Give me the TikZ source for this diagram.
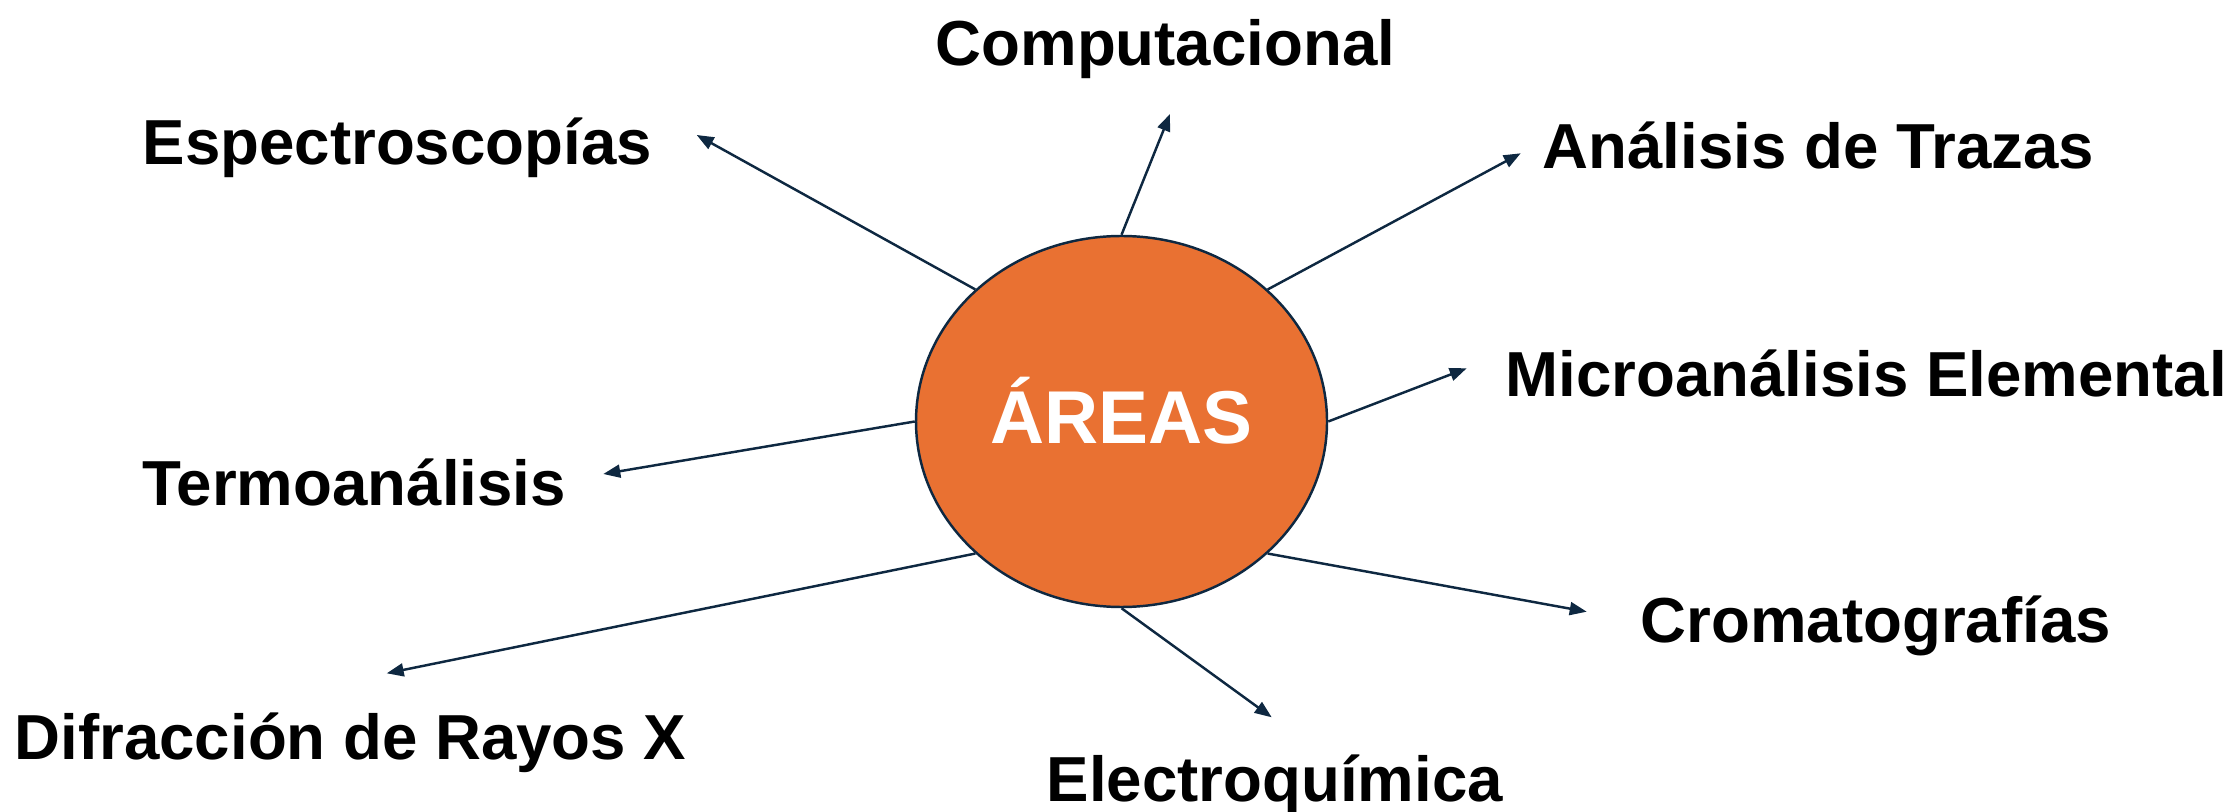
\documentclass[tikz,border=0pt]{standalone}
\usepackage{fontspec}
\setmainfont{Liberation Sans}
\usepackage{xcolor}
\usepackage{tikz}
\usetikzlibrary{shapes.geometric,arrows.meta}

\definecolor{naranja}{HTML}{E97132}
\definecolor{azuloscuro}{HTML}{0E2841}

\begin{document}
\begin{tikzpicture}[
                area/.style={font=\fontsize{18.1}{21}\selectfont\bfseries, inner sep=0pt, anchor=base west},
                flecha/.style={draw=azuloscuro, line width=0.7pt, -{Triangle[length=0.17cm,width=0.13cm]}}]
                \useasboundingbox (0,0) rectangle (22.32,8.11);
                % centro
                \node [ellipse, draw=azuloscuro, line width=0.7pt, fill=naranja, minimum width=4.11cm, minimum height=3.71cm, inner sep=0pt, text=white, font=\fontsize{21.3}{25}\selectfont\bfseries, text height=15pt, text depth=2.2pt] (areas) at (11.215,3.895) {ÁREAS};
                % etiquetas
                \node [area] (comp) at (9.35,7.455) {Computacional};
                \node [area] (espectro) at (1.42,6.46) {Espectroscopías};
                \node [area] (trazas) at (15.42,6.42) {Análisis de Trazas};
                \node [area] (micro) at (15.05,4.14) {Microanálisis Elemental};
                \node [area] (termo) at (1.42,3.06) {Termoanálisis};
                \node [area] (croma) at (16.40,1.69) {Cromatografías};
                \node [area] (difr) at (0.14,0.52) {Difracción de Rayos X};
                \node [area] (electro) at (10.46,0.10) {Electroquímica};
                % puntas de flecha
                \coordinate (fcomp) at (11.70,6.97);
                \coordinate (ftrazas) at (15.207,6.577);
                \coordinate (fespectro) at (6.967,6.76);
                \coordinate (fmicro) at (14.667,4.427);
                \coordinate (ftermo) at (6.033,3.37);
                \coordinate (fcroma) at (15.867,1.993);
                \coordinate (felectro) at (12.717,0.937);
                \coordinate (fdifr) at (3.867,1.377);
                \draw [flecha] (areas.north) -- (fcomp);
                \draw [flecha] (areas.north east) -- (ftrazas);
                \draw [flecha] (areas.north west) -- (fespectro);
                \draw [flecha] (areas.east) -- (fmicro);
                \draw [flecha] (areas.west) -- (ftermo);
                \draw [flecha] (areas.south east) -- (fcroma);
                \draw [flecha] (areas.south) -- (felectro);
                \draw [flecha] (areas.south west) -- (fdifr);
\end{tikzpicture}
\end{document}
